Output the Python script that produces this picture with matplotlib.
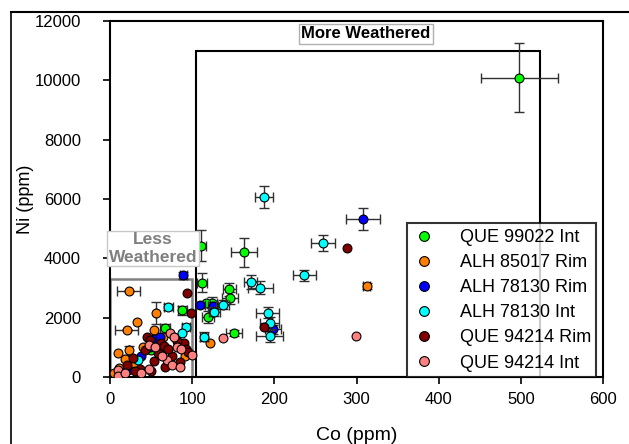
import numpy as np
import matplotlib
matplotlib.use("Agg")
import matplotlib.pyplot as plt
from matplotlib.patches import Rectangle
from matplotlib.lines import Line2D

plt.rcParams['font.family'] = ['Liberation Sans', 'DejaVu Sans']

labels = ['QUE 99022 Int', 'ALH 85017 Rim', 'ALH 78130 Rim',
          'ALH 78130 Int', 'QUE 94214 Rim', 'QUE 94214 Int']
colors = ['#00ff00', '#ff8000', '#0000ff', '#00ffff', '#800000', '#ff8080']

# QUE 99022 Int
co_que99 = [498, 111, 163, 112, 145, 146, 88, 119, 124, 151, 67, 59, 117, 50, 30]
ni_que99 = [10080, 4420, 4200, 3170, 2950, 2650, 2250, 2010, 2500, 1490, 1640, 1050, 2480, 900, 400]
coe_que99 = [47, 6, 16, 6, 8, 10, 5, 7, 6, 10, 6, 5, 0, 0, 0]
nie_que99 = [1160, 520, 480, 320, 220, 200, 150, 200, 180, 100, 150, 120, 0, 0, 0]

# ALH 85017 Rim
co_alh85 = [312, 23, 56, 33, 20, 53, 10, 23, 18, 91, 11, 122, 190, 65, 40, 5, 30]
ni_alh85 = [3060, 2880, 2150, 1840, 1590, 1590, 800, 900, 600, 720, 290, 1160, 1700, 1350, 1000, 150, 450]
coe_alh85 = [4, 14, 0, 0, 14, 0, 0, 0, 0, 0, 0, 0, 0, 0, 0, 0, 0]
nie_alh85 = [100, 0, 380, 0, 0, 0, 0, 150, 0, 0, 0, 0, 0, 0, 0, 0, 0]

# ALH 78130 Rim
co_alh78r = [308, 89, 110, 125, 198, 53, 61, 38, 22, 15, 48]
ni_alh78r = [5320, 3430, 2420, 2400, 1600, 1280, 1350, 700, 240, 150, 1000]
coe_alh78r = [21, 4, 5, 6, 10, 0, 0, 0, 0, 0, 0]
nie_alh78r = [370, 120, 100, 120, 150, 0, 0, 0, 0, 0, 0]

# ALH 78130 Int
co_alh78i = [187, 259, 236, 171, 183, 192, 194, 194, 137, 127, 114, 92, 71, 88, 34, 60]
ni_alh78i = [6060, 4520, 3420, 3200, 3010, 2170, 1830, 1370, 2440, 2200, 1360, 1700, 2370, 1470, 570, 900]
coe_alh78i = [11, 15, 14, 8, 15, 14, 12, 16, 8, 7, 5, 5, 5, 0, 0, 0]
nie_alh78i = [360, 270, 200, 250, 220, 200, 200, 200, 150, 150, 150, 100, 100, 0, 0, 0]

# QUE 94214 Rim
co_que94r = [288, 94, 98, 90, 92, 187, 45, 48, 62, 82, 66, 28, 36, 53, 67, 95, 75, 58, 42, 20, 85, 30, 50, 70]
ni_que94r = [4330, 2820, 2170, 1130, 930, 1700, 1360, 1250, 1150, 1200, 1050, 630, 270, 550, 350, 850, 700, 800, 900, 400, 500, 200, 200, 950]

# QUE 94214 Int
co_que94i = [299, 137, 73, 78, 47, 81, 86, 69, 75, 47, 85, 10, 10, 63, 55, 38, 18, 100]
ni_que94i = [1390, 1320, 1470, 1350, 1080, 1020, 930, 570, 400, 270, 350, 236, 40, 700, 1000, 150, 120, 750]

series = [
    (co_que99, ni_que99, coe_que99, nie_que99),
    (co_alh85, ni_alh85, coe_alh85, nie_alh85),
    (co_alh78r, ni_alh78r, coe_alh78r, nie_alh78r),
    (co_alh78i, ni_alh78i, coe_alh78i, nie_alh78i),
    (co_que94r, ni_que94r, [0] * len(co_que94r), [0] * len(co_que94r)),
    (co_que94i, ni_que94i, [0] * len(co_que94i), [0] * len(co_que94i)),
]

fig = plt.figure(figsize=(6.29, 4.44), dpi=100)
ax = fig.add_axes([0.175, 0.151, 0.784, 0.802])

# weathering boxes
ax.add_patch(Rectangle((105, 0), 418, 11000, fill=False, edgecolor='black', linewidth=1.5, zorder=1))
ax.add_patch(Rectangle((0, 0), 100, 3300, fill=False, edgecolor='#808080', linewidth=1.8, zorder=1))

handles = []
for i, (co, ni, coe, nie) in enumerate(series):
    co = np.array(co, dtype=float)
    ni = np.array(ni, dtype=float)
    coe = np.array(coe, dtype=float)
    nie = np.array(nie, dtype=float)
    m = (coe > 0) | (nie > 0)
    if m.any():
        ax.errorbar(co[m], ni[m], xerr=coe[m], yerr=nie[m], fmt='none',
                    ecolor='#303030', elinewidth=1, capsize=3.5, capthick=1, zorder=2 + i)
    h, = ax.plot(co, ni, 'o', color=colors[i], markeredgecolor='black',
                 markeredgewidth=0.8, markersize=6.4, zorder=2.5 + i, label=labels[i])
    handles.append(h)

ax.text(311, 11560, 'More Weathered', ha='center', va='center', fontsize=12,
        fontweight='bold', color='black', zorder=20,
        bbox=dict(boxstyle='square,pad=0.15', facecolor='white', edgecolor='#b0b0b0', linewidth=1))
ax.text(52, 4330, 'Less\nWeathered', ha='center', va='center', fontsize=12.5,
        fontweight='bold', color='#808080', zorder=20, linespacing=1.2,
        bbox=dict(boxstyle='square,pad=0.1', facecolor='white', edgecolor='#c8c8c8', linewidth=1))

ax.set_xlim(0, 600)
ax.set_ylim(0, 12000)
ax.set_xticks(np.arange(0, 601, 100))
ax.set_yticks(np.arange(0, 12001, 2000))
ax.tick_params(direction='out', length=5, width=1.2, colors='black')
ax.tick_params(axis='x', labelsize=12, pad=6)
ax.tick_params(axis='y', pad=16)
for lab in ax.get_yticklabels():
    lab.set_family(['Liberation Sans Narrow', 'Liberation Sans'])
    lab.set_fontsize(12)
for sp in ax.spines.values():
    sp.set_linewidth(1.5)
    sp.set_color('black')

ax.set_xlabel('Co (ppm)', fontsize=14, labelpad=14)
ax.set_ylabel('Ni (ppm)', fontsize=13)
ax.yaxis.set_label_coords(-0.155, 0.5)

leg = ax.legend(handles=handles, loc='lower right', bbox_to_anchor=(0.986, 0.0),
                borderaxespad=0, fontsize=13, frameon=True, fancybox=False,
                handlelength=1.2, handletextpad=1.4, labelspacing=0.45,
                borderpad=0.3, markerscale=1.1)
leg.get_frame().set_edgecolor('black')
leg.get_frame().set_linewidth(1.5)
leg.set_zorder(30)

# page frame lines around the cropped figure
fig.add_artist(Line2D([0.0167, 1.0], [0.973, 0.973], color='black', linewidth=1.5))
fig.add_artist(Line2D([0.0167, 0.0167], [0.0, 0.973], color='black', linewidth=1.2))

fig.savefig('out.png', dpi=100)
